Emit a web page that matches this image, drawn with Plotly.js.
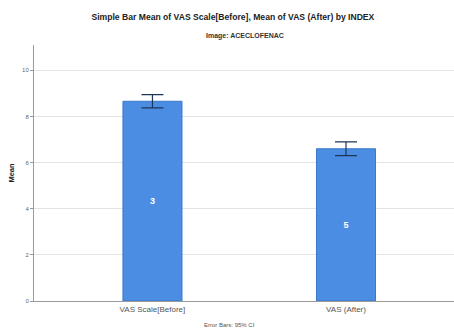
<!DOCTYPE html>
<html>
<head>
<meta charset="utf-8">
<script src="https://cdn.plot.ly/plotly-3.0.1.min.js"></script>
<style>
  html, body { margin: 0; padding: 0; background: #ffffff; }
  #chart { width: 454px; height: 335px; }
</style>
</head>
<body>
<div id="chart"></div>
<script>
// Mean VAS score before and after treatment, with 95% CI error bars
const categories = ['VAS Scale[Before]', 'VAS (After)'];
const means = [8.66, 6.6];
const ciHalfWidth = [0.29, 0.3];
const barLabels = ['3', '5'];
const yTicks = [0, 2, 4, 6, 8, 10];

const font = 'Liberation Sans, Arial, sans-serif';

const trace = {
  type: 'bar',
  x: categories,
  y: means,
  width: 0.305,
  text: barLabels,
  textposition: 'inside',
  insidetextanchor: 'middle',
  textfont: { family: font, size: 9, color: '#ffffff', weight: 'bold' },
  marker: { color: '#4a8de2', line: { color: '#3b78c9', width: 1 } },
  error_y: {
    type: 'data',
    array: ciHalfWidth,
    visible: true,
    color: '#1f3558',
    thickness: 1.2,
    width: 11
  },
  hoverinfo: 'none'
};

const layout = {
  width: 454,
  height: 335,
  margin: { l: 34, r: 0, t: 45, b: 34 },
  paper_bgcolor: '#ffffff',
  plot_bgcolor: '#ffffff',
  showlegend: false,
  bargap: 0,
  title: {
    text: 'Simple Bar Mean of VAS Scale[Before], Mean of VAS (After) by INDEX',
    font: { family: font, size: 8.6, color: '#222222', weight: 'bold' },
    x: 0.513, xanchor: 'center', y: 0.948, yanchor: 'middle'
  },
  xaxis: {
    type: 'category',
    range: [-0.612, 1.558],
    showgrid: false,
    showline: true,
    linecolor: '#9a9a9a',
    linewidth: 1,
    ticks: '',
    tickfont: { family: font, size: 8, color: '#555555' },
    zeroline: false
  },
  yaxis: {
    range: [0, 11.1],
    tickvals: yTicks,
    ticktext: yTicks.map(String),
    showgrid: true,
    gridcolor: '#e4e4e4',
    gridwidth: 1,
    showline: true,
    linecolor: '#9a9a9a',
    linewidth: 1,
    ticks: 'outside',
    ticklen: 3,
    tickcolor: '#9a9a9a',
    tickfont: { family: font, size: 6, color: '#666666' },
    zeroline: false,
    title: {
      text: 'Mean',
      font: { family: font, size: 7.5, color: '#222222', weight: 'bold' },
      standoff: 6
    }
  },
  annotations: [
    {
      text: 'Image: ACECLOFENAC',
      xref: 'paper', yref: 'paper',
      x: 0.502, y: 1.035, xanchor: 'center', yanchor: 'middle',
      showarrow: false,
      font: { family: font, size: 7, color: '#333333', weight: 'bold' }
    },
    {
      text: 'Error Bars: 95% CI',
      xref: 'paper', yref: 'paper',
      x: 0.465, y: -0.094, xanchor: 'center', yanchor: 'middle',
      showarrow: false,
      font: { family: font, size: 6, color: '#555555' }
    }
  ]
};

Plotly.newPlot('chart', [trace], layout, { displayModeBar: false, staticPlot: true });
</script>
</body>
</html>
